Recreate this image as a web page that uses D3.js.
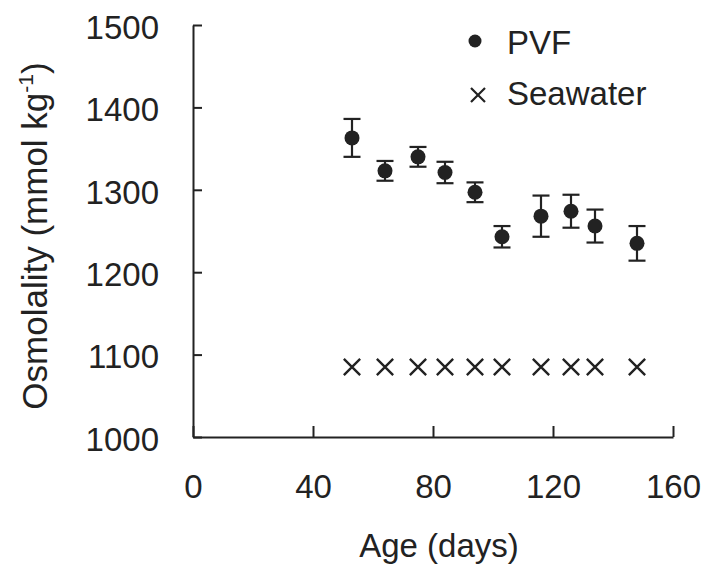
<!DOCTYPE html>
<html>
<head>
<meta charset="utf-8">
<script src="https://cdn.jsdelivr.net/npm/d3@7"></script>
<style>
  body { margin: 0; background: #fff; }
  text { font-family: "Liberation Sans", Arial, sans-serif; fill: #222; }
</style>
</head>
<body>
<div class="chart"></div>
<script>
// data
var ages = [53, 64, 75, 84, 94, 103, 116, 126, 134, 148];
var pvf = [1363, 1323, 1340, 1321, 1297, 1243, 1268, 1274, 1256, 1235];
var pvfErr = [23, 12, 12, 13, 12, 13, 25, 20, 20, 21];
var seawater = [1085, 1085, 1085, 1085, 1085, 1085, 1085, 1085, 1085, 1085];
var xTicks = [0, 40, 80, 120, 160];
var yTicks = [1000, 1100, 1200, 1300, 1400, 1500];
var legendLabels = ["PVF", "Seawater"];

var svgWidth = 705;
var svgHeight = 573;
var ink = "#222";

var svg = d3.select(".chart")
  .append("svg")
  .attr("width", svgWidth)
  .attr("height", svgHeight);

var x = d3.scaleLinear().domain([0, 160]).range([193, 673]);
var y = d3.scaleLinear().domain([1000, 1500]).range([437, 25]);

// axes, ticks point inward
var xAxis = d3.axisBottom(x)
  .tickValues(xTicks)
  .tickFormat(d3.format("d"))
  .tickSizeInner(-11)
  .tickSizeOuter(0)
  .tickPadding(38);

var yAxis = d3.axisLeft(y)
  .tickValues(yTicks)
  .tickFormat(d3.format("d"))
  .tickSizeInner(-9)
  .tickSizeOuter(0)
  .tickPadding(34);

var gx = svg.append("g")
  .attr("transform", "translate(0," + y(1000) + ")")
  .call(xAxis);

var gy = svg.append("g")
  .attr("transform", "translate(" + x(0) + ",0)")
  .call(yAxis);

[gx, gy].forEach(function(g) {
  g.selectAll("path, line").attr("stroke", ink).attr("stroke-width", 2);
  g.selectAll("text")
    .attr("fill", ink)
    .style("font-size", "33px")
    .style("font-family", "'Liberation Sans', Arial, sans-serif");
});
gy.selectAll("text").attr("dy", "0.4em");

// PVF error bars
var pvfData = ages.map(function(a, i) {
  return { age: a, val: pvf[i], err: pvfErr[i], sea: seawater[i] };
});

var bars = svg.append("g")
  .attr("stroke", ink)
  .attr("stroke-width", 2.2);

bars.selectAll(".stem")
  .data(pvfData)
  .enter()
  .append("line")
  .attr("x1", d => x(d.age))
  .attr("x2", d => x(d.age))
  .attr("y1", d => y(d.val + d.err))
  .attr("y2", d => y(d.val - d.err));

bars.selectAll(".capTop")
  .data(pvfData)
  .enter()
  .append("line")
  .attr("x1", d => x(d.age) - 8.5)
  .attr("x2", d => x(d.age) + 8.5)
  .attr("y1", d => y(d.val + d.err))
  .attr("y2", d => y(d.val + d.err));

bars.selectAll(".capBot")
  .data(pvfData)
  .enter()
  .append("line")
  .attr("x1", d => x(d.age) - 8.5)
  .attr("x2", d => x(d.age) + 8.5)
  .attr("y1", d => y(d.val - d.err))
  .attr("y2", d => y(d.val - d.err));

svg.append("g")
  .selectAll("circle")
  .data(pvfData)
  .enter()
  .append("circle")
  .attr("cx", d => x(d.age))
  .attr("cy", d => y(d.val))
  .attr("r", 7.5)
  .attr("fill", ink);

// seawater crosses
var cross = d3.symbol().type(d3.symbolX).size(175);

svg.append("g")
  .selectAll("path")
  .data(pvfData)
  .enter()
  .append("path")
  .attr("d", cross)
  .attr("transform", d => "translate(" + x(d.age) + "," + y(d.sea) + ")")
  .attr("fill", "none")
  .attr("stroke", ink)
  .attr("stroke-width", 2.4);

// legend
var legend = svg.append("g");
legend.append("circle")
  .attr("cx", 475)
  .attr("cy", 41)
  .attr("r", 6.5)
  .attr("fill", ink);
legend.append("path")
  .attr("d", d3.symbol().type(d3.symbolX).size(130))
  .attr("transform", "translate(478,95)")
  .attr("fill", "none")
  .attr("stroke", ink)
  .attr("stroke-width", 2.2);
legend.selectAll("text")
  .data(legendLabels)
  .enter()
  .append("text")
  .attr("x", 507)
  .attr("y", (d, i) => 54 + i * 51)
  .style("font-size", "33px")
  .text(d => d);

// axis titles
svg.append("text")
  .attr("transform", "translate(439,557)")
  .attr("text-anchor", "middle")
  .style("font-size", "33px")
  .text("Age (days)");

var yTitle = svg.append("text")
  .attr("transform", "translate(47,236) rotate(-90)")
  .attr("text-anchor", "middle")
  .style("font-size", "35px");
yTitle.append("tspan").text("Osmolality (mmol kg");
yTitle.append("tspan").attr("dy", -14).style("font-size", "21px").text("-1");
yTitle.append("tspan").attr("dy", 14).text(")");
</script>
</body>
</html>
